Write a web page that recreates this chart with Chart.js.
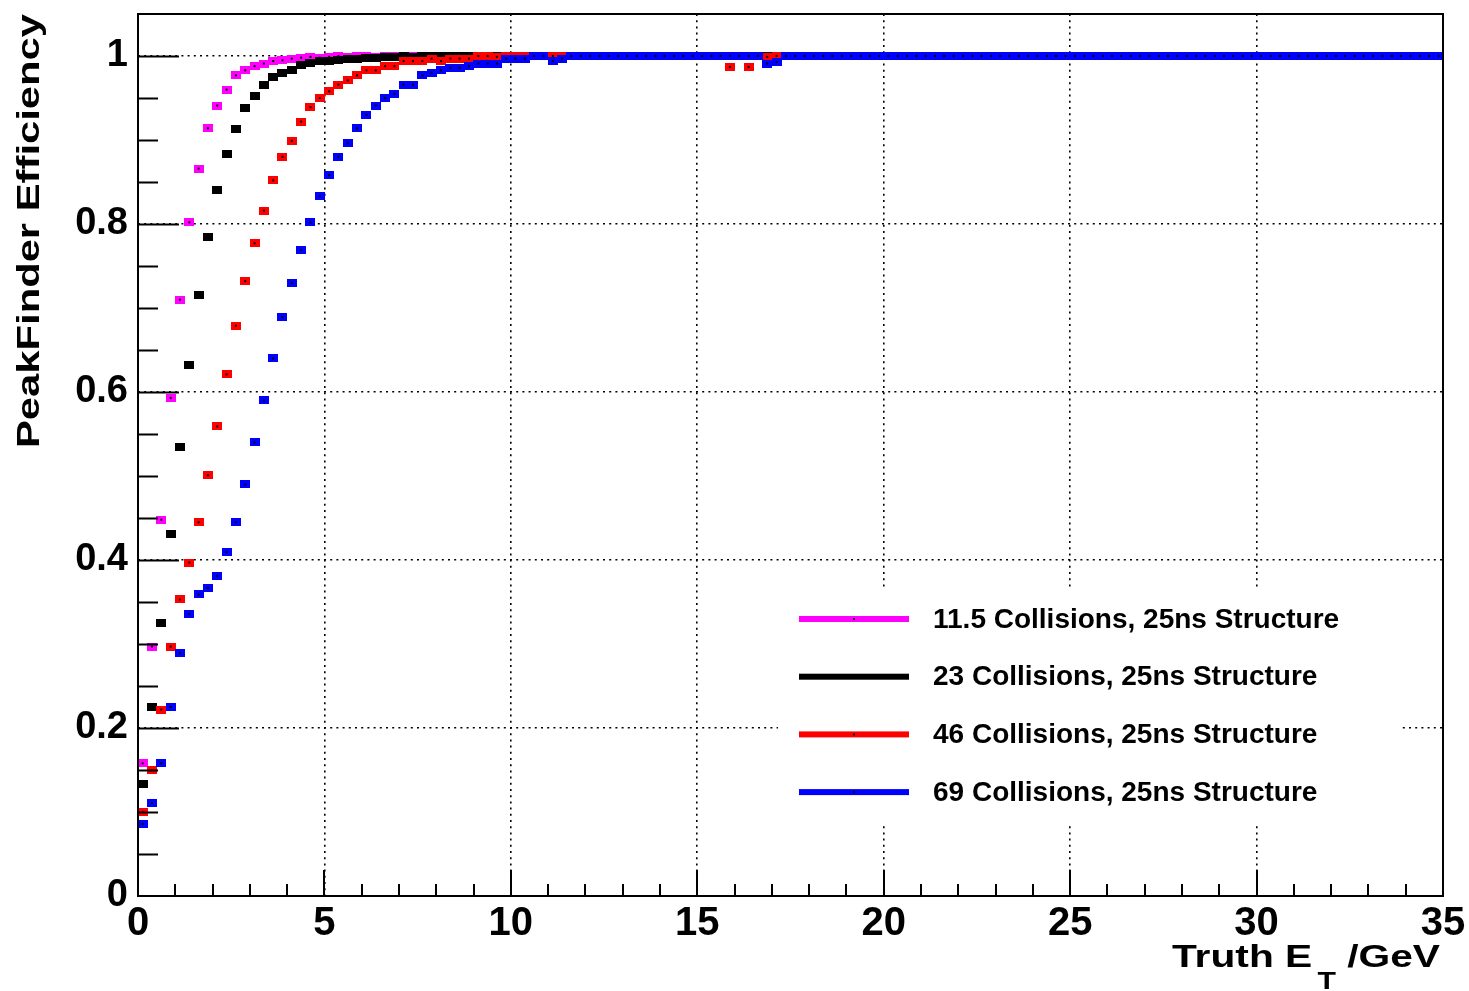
<!DOCTYPE html>
<html>
<head>
<meta charset="utf-8">
<title>PeakFinder Efficiency</title>
<script src="https://cdn.jsdelivr.net/npm/chart.js@4.4.1/dist/chart.umd.min.js"></script>
<style>
  html, body { margin: 0; padding: 0; background: #fff; }
  #wrap { width: 1469px; height: 991px; }
</style>
</head>
<body>
<div id="wrap"><canvas id="eff" width="1469" height="991"></canvas></div>
<script>
// ---------- Data (0.25 GeV bins from 0 to 35) ----------
const BIN_LOW = 0;
const BIN_WIDTH = 0.25;

const seriesLabels = [
  '11.5 Collisions, 25ns Structure',
  '23 Collisions, 25ns Structure',
  '46 Collisions, 25ns Structure',
  '69 Collisions, 25ns Structure'
];
const seriesColors = ['#ff00ff', '#000000', '#ff0000', '#0000ff'];

const eff11p5 = [
  0.158, 0.297, 0.448, 0.593, 0.710, 0.802, 0.866, 0.914, 0.941, 0.960, 0.977, 0.983, 0.988, 0.991, 0.994, 0.995, 0.997, 0.998, 0.999, 0.998,
  0.999, 1, 0.999, 1, 1, 0.999, 1, 1, 1, 1, 1, 1, 1, 1, 1, 1, 1, 1, 1, 1,
  1, 1, 1, 1, 1, 1, 1, 1, 1, 1, 1, 1, 1, 1, 1, 1, 1, 1, 1, 1,
  1, 1, 1, 1, 1, 1, 1, 1, 1, 1, 1, 1, 1, 1, 1, 1, 1, 1, 1, 1,
  1, 1, 1, 1, 1, 1, 1, 1, 1, 1, 1, 1, 1, 1, 1, 1, 1, 1, 1, 1,
  1, 1, 1, 1, 1, 1, 1, 1, 1, 1, 1, 1, 1, 1, 1, 1, 1, 1, 1, 1,
  1, 1, 1, 1, 1, 1, 1, 1, 1, 1, 1, 1, 1, 1, 1, 1, 1, 1, 1, 1
];
const eff23 = [
  0.133, 0.225, 0.325, 0.431, 0.535, 0.632, 0.715, 0.785, 0.841, 0.883, 0.913, 0.938, 0.952, 0.966, 0.975, 0.980, 0.983, 0.989, 0.992, 0.994,
  0.994, 0.995, 0.996, 0.997, 0.998, 0.998, 0.999, 0.999, 1, 0.999, 1, 1, 1, 1, 1, 1, 1, 1, 1, 1,
  1, 1, 1, 1, 1, 1, 1, 1, 1, 1, 1, 1, 1, 1, 1, 1, 1, 1, 1, 1,
  1, 1, 1, 1, 1, 1, 1, 1, 1, 1, 1, 1, 1, 1, 1, 1, 1, 1, 1, 1,
  1, 1, 1, 1, 1, 1, 1, 1, 1, 1, 1, 1, 1, 1, 1, 1, 1, 1, 1, 1,
  1, 1, 1, 1, 1, 1, 1, 1, 1, 1, 1, 1, 1, 1, 1, 1, 1, 1, 1, 1,
  1, 1, 1, 1, 1, 1, 1, 1, 1, 1, 1, 1, 1, 1, 1, 1, 1, 1, 1, 1
];
const eff46 = [
  0.100, 0.150, 0.222, 0.297, 0.353, 0.397, 0.445, 0.501, 0.559, 0.621, 0.679, 0.732, 0.777, 0.816, 0.852, 0.880, 0.899, 0.922, 0.939, 0.950,
  0.958, 0.966, 0.971, 0.977, 0.983, 0.983, 0.988, 0.988, 0.994, 0.994, 0.994, 0.997, 0.994, 0.997, 0.997, 0.997, 1, 1, 0.999, 1,
  1, 1, 1, 1, 1, 1, 1, 1, 1, 1, 1, 1, 1, 1, 1, 1, 1, 1, 1, 1,
  1, 1, 1, 0.987, 1, 0.987, 1, 0.999, 1, 1, 1, 1, 1, 1, 1, 1, 1, 1, 1, 1,
  1, 1, 1, 1, 1, 1, 1, 1, 1, 1, 1, 1, 1, 1, 1, 1, 1, 1, 1, 1,
  1, 1, 1, 1, 1, 1, 1, 1, 1, 1, 1, 1, 1, 1, 1, 1, 1, 1, 1, 1,
  1, 1, 1, 1, 1, 1, 1, 1, 1, 1, 1, 1, 1, 1, 1, 1, 1, 1, 1, 1
];
const eff69 = [
  0.086, 0.111, 0.158, 0.225, 0.289, 0.336, 0.359, 0.367, 0.381, 0.409, 0.445, 0.490, 0.540, 0.590, 0.640, 0.689, 0.730, 0.769, 0.802, 0.833,
  0.858, 0.880, 0.896, 0.914, 0.930, 0.941, 0.950, 0.955, 0.966, 0.966, 0.977, 0.980, 0.983, 0.986, 0.986, 0.988, 0.991, 0.991, 0.991, 0.997,
  0.997, 0.997, 1, 1, 0.994, 0.997, 1, 1, 1, 1, 1, 1, 1, 1, 1, 1, 1, 1, 1, 1,
  1, 1, 1, 1, 1, 1, 1, 0.991, 0.993, 1, 1, 1, 1, 1, 1, 1, 1, 1, 1, 1,
  1, 1, 1, 1, 1, 1, 1, 1, 1, 1, 1, 1, 1, 1, 1, 1, 1, 1, 1, 1,
  1, 1, 1, 1, 1, 1, 1, 1, 1, 1, 1, 1, 1, 1, 1, 1, 1, 1, 1, 1,
  1, 1, 1, 1, 1, 1, 1, 1, 1, 1, 1, 1, 1, 1, 1, 1, 1, 1, 1, 1
];
const seriesValues = [eff11p5, eff23, eff46, eff69];

const X_MIN = 0, X_MAX = 35;
const Y_MIN = 0, Y_MAX = 1.05;
const FONT = '"Liberation Sans", Arial, Helvetica, sans-serif';

// ---------- Helpers ----------
function toPoints(values) {
  return values.map((v, i) => ({ x: BIN_LOW + BIN_WIDTH * (i + 0.5), y: v }));
}

// ROOT-like square marker with a tiny black dot (the zero-size error bar) in the middle
function makeMarker(color) {
  const c = document.createElement('canvas');
  c.width = 10;
  c.height = 8;
  const g = c.getContext('2d');
  g.fillStyle = color;
  g.fillRect(0, 0, 10, 8);
  g.fillStyle = '#000';
  g.fillRect(4, 3, 2, 2);
  return c;
}

// ---------- ROOT-style frame, ticks, titles, legend ----------
const rootStyle = {
  id: 'rootStyle',
  afterDatasetsDraw(chart) {
    const { ctx, chartArea: a, scales: { x, y } } = chart;
    ctx.save();

    // legend box
    ctx.fillStyle = '#fff';
    ctx.fillRect(778, 590, 622, 236);
    ctx.font = 'bold 28px ' + FONT;
    ctx.textBaseline = 'middle';
    ctx.textAlign = 'left';
    seriesLabels.forEach((lab, i) => {
      const cy = 619 + i * 57.7;
      ctx.fillStyle = seriesColors[i];
      ctx.fillRect(799, cy - 3, 110, 6);
      ctx.fillStyle = '#000';
      ctx.fillRect(853, cy - 1, 2, 2);
      ctx.fillText(lab, 933, cy + 1);
    });

    // ticks (inside the frame)
    ctx.strokeStyle = '#000';
    ctx.lineWidth = 2;
    ctx.beginPath();
    for (let k = 1; k <= 20; k++) {
      const py = Math.round(y.getPixelForValue(k * 0.05)) + 0.5;
      const len = k % 4 === 0 ? 41 : 20;
      ctx.moveTo(a.left, py);
      ctx.lineTo(a.left + len, py);
    }
    for (let v = X_MIN + 1; v < X_MAX; v++) {
      const px = Math.round(x.getPixelForValue(v));
      const len = v % 5 === 0 ? 26 : 12;
      ctx.moveTo(px, a.bottom);
      ctx.lineTo(px, a.bottom - len);
    }
    ctx.stroke();

    // frame
    ctx.lineWidth = 2;
    ctx.strokeRect(a.left, a.top, a.right - a.left, a.bottom - a.top);
    ctx.restore();
  },
  afterDraw(chart) {
    const { ctx, chartArea: a } = chart;
    ctx.save();
    ctx.fillStyle = '#000';
    ctx.textBaseline = 'alphabetic';

    // y title, rotated, right aligned to top of frame
    ctx.save();
    ctx.translate(39, a.top);
    ctx.rotate(-Math.PI / 2);
    ctx.font = 'bold 32px ' + FONT;
    ctx.textAlign = 'right';
    const yt = 'PeakFinder Efficiency';
    const yw = ctx.measureText(yt).width;
    ctx.scale(434 / yw, 1);
    ctx.fillText(yt, 0, 0);
    ctx.restore();

    // x title "Truth E_T /GeV", right aligned to end of axis
    ctx.textAlign = 'left';
    ctx.font = 'bold 31px ' + FONT;
    const wA = ctx.measureText('Truth E').width;
    const wC = ctx.measureText(' /GeV').width;
    ctx.font = 'bold 23px ' + FONT;
    const wB = ctx.measureText('T').width;
    const sx = 268 / (wA + wB + wC + 4);
    const x0 = a.right - 3 - 268;
    ctx.save();
    ctx.translate(x0, 967);
    ctx.scale(sx, 1);
    ctx.font = 'bold 31px ' + FONT;
    ctx.fillText('Truth E', 0, 0);
    ctx.font = 'bold 23px ' + FONT;
    ctx.fillText('T', wA + 4, 22);
    ctx.font = 'bold 31px ' + FONT;
    ctx.fillText(' /GeV', wA + wB + 4, 0);
    ctx.restore();

    ctx.restore();
  }
};

// ---------- Chart ----------
const drawOrder = [3, 2, 1, 0]; // blue on top, magenta underneath

new Chart(document.getElementById('eff').getContext('2d'), {
  type: 'scatter',
  data: {
    datasets: seriesValues.map((vals, i) => ({
      label: seriesLabels[i],
      data: toPoints(vals),
      order: drawOrder[i],
      pointStyle: makeMarker(seriesColors[i]),
      pointRadius: 5,
      pointHoverRadius: 5,
      backgroundColor: seriesColors[i],
      borderColor: seriesColors[i],
      showLine: false
    }))
  },
  options: {
    responsive: false,
    animation: false,
    events: [],
    layout: { padding: { top: 14, right: 26, left: 0, bottom: 0 } },
    plugins: {
      legend: { display: false },
      tooltip: { enabled: false }
    },
    scales: {
      x: {
        type: 'linear',
        min: X_MIN,
        max: X_MAX,
        afterFit(scale) {
          scale.height = 95;
          scale.paddingLeft = 0;
          scale.paddingRight = 0;
        },
        ticks: {
          stepSize: 5,
          includeBounds: false,
          maxRotation: 0,
          autoSkip: false,
          padding: 4,
          color: '#000',
          font: { family: FONT, size: 40, weight: 'bold' }
        },
        grid: { color: '#000', lineWidth: 1.6, drawTicks: false },
        border: { display: false, dash: [2, 4.2] }
      },
      y: {
        type: 'linear',
        min: Y_MIN,
        max: Y_MAX,
        afterFit(scale) {
          scale.width = 138;
          scale.paddingTop = 0;
          scale.paddingBottom = 0;
        },
        ticks: {
          stepSize: 0.2,
          includeBounds: false,
          padding: 10,
          color: '#000',
          font: { family: FONT, size: 38, weight: 'bold' },
          callback: v => String(Number(v.toFixed(1)))
        },
        grid: { color: '#000', lineWidth: 1.6, drawTicks: false },
        border: { display: false, dash: [2, 4.2] }
      }
    }
  },
  plugins: [rootStyle]
});
</script>
</body>
</html>
